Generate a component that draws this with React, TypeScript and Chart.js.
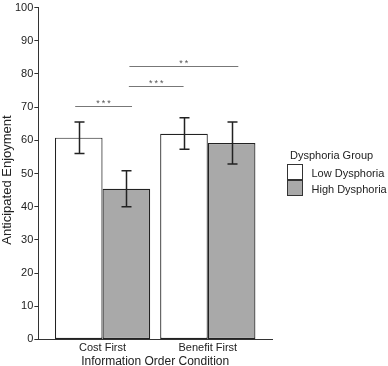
import React, { useEffect, useRef } from "react";
import { Chart, registerables } from "chart.js";

Chart.register(...registerables);

const categories = ["Cost First", "Benefit First"];
const seriesNames = ["Low Dysphoria", "High Dysphoria"];
const legendTitle = "Dysphoria Group";
const yTitle = "Anticipated Enjoyment";
const lowValues = [60.8, 62.0];
const highValues = [45.4, 59.2];
const lowErrLo = [56.0, 57.3];
const lowErrHi = [65.5, 66.8];
const highErrLo = [40.0, 52.9];
const highErrHi = [50.8, 65.5];
const yTicks = [0, 10, 20, 30, 40, 50, 60, 70, 80, 90, 100];
// significance brackets: from x, to x (category units), height, label
const sigFrom = [-0.26, 0.25, 0.255];
const sigTo = [0.28, 0.77, 1.29];
const sigY = [70.2, 76.3, 82.5];
const sigLabels = ["***", "***", "**"];

const FONT = "'Liberation Sans', Arial, sans-serif";

const errorBarPlugin = {
  id: "errorBars",
  afterDatasetsDraw(chart: any) {
    const { ctx, scales, chartArea } = chart;
    const y = scales.y;
    const los = [lowErrLo, highErrLo];
    const his = [lowErrHi, highErrHi];
    ctx.save();
    ctx.strokeStyle = "#222";
    ctx.lineWidth = 1.5;
    for (let d = 0; d < 2; d++) {
      const meta = chart.getDatasetMeta(d);
      meta.data.forEach((bar: any, i: number) => {
        const x = Math.round(bar.x) + 0.5;
        const yl = y.getPixelForValue(los[d][i]);
        const yh = y.getPixelForValue(his[d][i]);
        ctx.beginPath();
        ctx.moveTo(x, yl);
        ctx.lineTo(x, yh);
        ctx.moveTo(x - 5, yl);
        ctx.lineTo(x + 5, yl);
        ctx.moveTo(x - 5, yh);
        ctx.lineTo(x + 5, yh);
        ctx.stroke();
      });
    }
    // significance brackets
    const xs = scales.x;
    ctx.strokeStyle = "#777";
    ctx.lineWidth = 1;
    ctx.fillStyle = "#555";
    ctx.font = `9px ${FONT}`;
    ctx.textAlign = "center";
    ctx.textBaseline = "alphabetic";
    (ctx as any).letterSpacing = "2px";
    for (let k = 0; k < sigY.length; k++) {
      const x1 = xs.getPixelForValue(sigFrom[k]);
      const x2 = xs.getPixelForValue(sigTo[k]);
      const yy = Math.round(y.getPixelForValue(sigY[k])) + 0.5;
      ctx.beginPath();
      ctx.moveTo(x1, yy);
      ctx.lineTo(x2, yy);
      ctx.stroke();
      ctx.fillText(sigLabels[k], (x1 + x2) / 2 + 1, yy - 1);
    }
    (ctx as any).letterSpacing = "0px";

    // y axis title
    ctx.save();
    ctx.translate(11, 180);
    ctx.rotate(-Math.PI / 2);
    ctx.fillStyle = "#222";
    ctx.font = `13px ${FONT}`;
    ctx.textAlign = "center";
    ctx.textBaseline = "alphabetic";
    ctx.fillText(yTitle, 0, 0);
    ctx.restore();

    // legend
    const lx = chartArea.right + 15.5;
    ctx.fillStyle = "#222";
    ctx.textAlign = "left";
    ctx.font = `11px ${FONT}`;
    ctx.textBaseline = "alphabetic";
    ctx.fillText(legendTitle, lx + 2.5, 158.5);
    chart.data.datasets.forEach((ds: any, i: number) => {
      const top = 164.5 + i * 16;
      ctx.fillStyle = ds.backgroundColor;
      ctx.fillRect(lx, top, 15, 15);
      ctx.strokeStyle = "#333";
      ctx.lineWidth = 1;
      ctx.strokeRect(lx, top, 15, 15);
      ctx.fillStyle = "#222";
      ctx.textBaseline = "alphabetic";
      ctx.fillText(ds.label, lx + 24, top + 12);
    });
    ctx.restore();
  },
};

export default function App() {
  const ref = useRef<HTMLCanvasElement>(null);
  useEffect(() => {
    document.body.style.margin = "0";
    const canvas = ref.current!;
    const chart = new Chart(canvas, {
      type: "bar",
      data: {
        datasets: [
          {
            label: seriesNames[0],
            data: lowValues.map((v, i) => ({ x: i, y: v })),
            backgroundColor: "#ffffff",
            borderColor: "#222",
            borderWidth: 1.2,
            borderSkipped: false,
            categoryPercentage: 0.905,
            barPercentage: 1,
          },
          {
            label: seriesNames[1],
            data: highValues.map((v, i) => ({ x: i, y: v })),
            backgroundColor: "#a9a9a9",
            borderColor: "#222",
            borderWidth: 1.2,
            borderSkipped: false,
            categoryPercentage: 0.905,
            barPercentage: 1,
          },
        ],
      },
      options: {
        animation: false,
        responsive: false,
        maintainAspectRatio: false,
        layout: { padding: { top: -1, right: 116, left: 14, bottom: -3 } },
        plugins: {
          tooltip: { enabled: false },
          legend: { display: false },
        },
        scales: {
          x: {
            type: "linear",
            offset: false,
            min: -0.61,
            max: 1.61,
            afterBuildTicks: (s: any) => {
              s.ticks = categories.map((_, i) => ({ value: i }));
            },
            ticks: {
              autoSkip: false,
              maxRotation: 0,
              padding: 2,
              color: "#222",
              font: { family: FONT, size: 11 },
              callback: (v: any) => categories[v] ?? "",
            },
            grid: { display: false, drawTicks: false },
            border: { display: true, color: "#333", width: 1 },
            title: {
              display: true,
              text: "Information Order Condition",
              color: "#222",
              font: { family: FONT, size: 12 },
              padding: { top: -2, bottom: 0 },
            },
          },
          y: {
            min: 0,
            max: 100,
            afterBuildTicks: (s: any) => {
              s.ticks = yTicks.map((v) => ({ value: v }));
            },
            ticks: {
              padding: 1,
              color: "#222",
              font: { family: FONT, size: 11 },
            },
            grid: {
              drawOnChartArea: false,
              drawTicks: true,
              tickLength: 4,
              color: "#333",
            },
            border: { display: true, color: "#333", width: 1 },
            title: { display: false },
          },
        },
      },
      plugins: [errorBarPlugin],
    });
    return () => chart.destroy();
  }, []);
  return (
    <div style={{ width: 388, height: 366 }}>
      <canvas ref={ref} width={388} height={366} style={{ display: "block" }} />
    </div>
  );
}
